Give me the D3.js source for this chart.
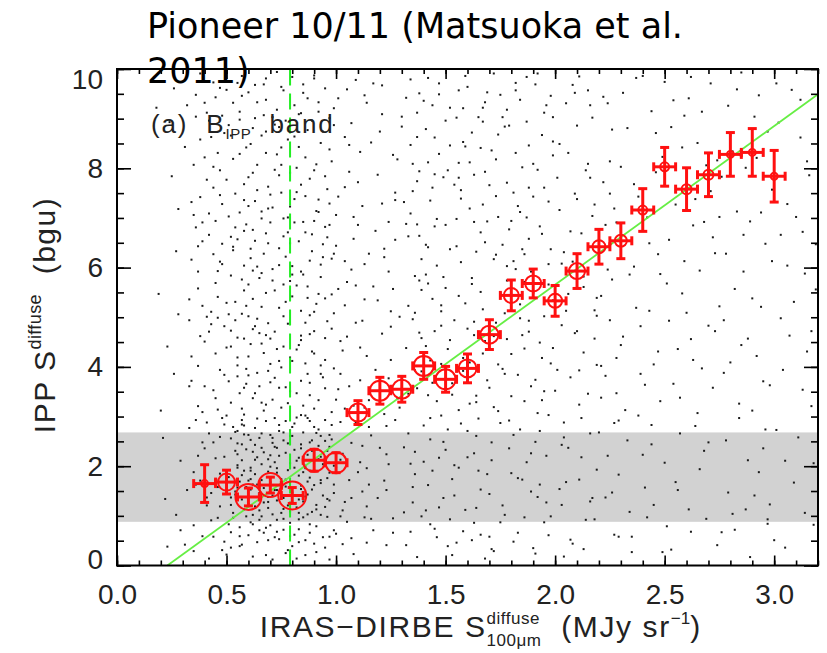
<!DOCTYPE html>
<html><head><meta charset="utf-8">
<script src="https://cdn.jsdelivr.net/npm/d3@7"></script>
<style>body{margin:0;background:#fff}svg{display:block}text{white-space:pre}</style>
</head><body><svg id="c" width="827" height="653"></svg>
<script>
// ---------------- DATA ----------------
const binX = [0.4,0.5,0.6,0.7,0.8,0.9,1.0,1.1,1.2,1.3,1.4,1.5,1.6,1.7,1.8,1.9,2.0,2.1,2.2,2.3,2.4,2.5,2.6,2.7,2.8,2.9,3.0];
const binY = [1.65,1.68,1.38,1.62,1.41,2.12,2.07,3.08,3.52,3.55,4.02,3.75,3.97,4.65,5.44,5.68,5.33,5.93,6.42,6.54,7.16,8.03,7.58,7.87,8.28,8.32,7.84];
const binYErr = [0.38,0.24,0.18,0.16,0.16,0.22,0.2,0.24,0.27,0.26,0.27,0.26,0.29,0.3,0.31,0.29,0.31,0.35,0.35,0.36,0.43,0.39,0.43,0.44,0.44,0.48,0.52];
const binXErr = [0.05,0.05,0.05,0.05,0.05,0.05,0.05,0.05,0.05,0.05,0.05,0.05,0.05,0.05,0.05,0.05,0.05,0.05,0.05,0.05,0.05,0.05,0.05,0.05,0.05,0.05,0.05];
const binCounts = [12,72,169,144,196,132,110,81,100,90,100,100,81,81,56,64,49,64,42,36,20,20,25,25,12,12,12];
const bandRange = [0.88, 2.68];
const cutX = [0.79];
const fitLineX = [0.23, 3.2];
const fitLineY = [0, 9.49];
const xTicks = [0,0.5,1.0,1.5,2.0,2.5,3.0];
const xTickLabels = ["0.0","0.5","1.0","1.5","2.0","2.5","3.0"];
const yTicks = [0,2,4,6,8,10];
const yTickLabels = ["0","2","4","6","8","10"];
const titleLines = ["Pioneer 10/11 (Matsuoka et al.", "2011)"];
const dots = [
[0.31,0.42],[0.58,1.13],[0.77,0.25],[0.93,2.61],[0.45,3.37],[1.05,0.88],[0.66,2.04],[0.84,3.72],[0.52,0.67],[1.14,1.96],
[0.39,2.48],[0.71,1.41],[0.98,3.09],[0.62,0.18],[0.88,1.77],[0.27,1.02],[1.09,2.87],[0.55,3.81],[0.79,0.59],[0.47,1.85],
[0.95,0.36],[0.68,3.24],[0.36,2.93],[1.17,0.71],[0.81,2.33],[0.59,1.58],[1.01,3.55],[0.43,0.91],[0.74,2.71],[0.91,1.22],
[0.33,3.61],[0.64,0.47],[0.86,3.02],[1.12,1.49],[0.49,2.19],[0.76,0.94],[0.57,2.84],[0.97,0.12],[0.41,1.37],[0.69,3.92],
[1.03,2.25],[0.83,0.73],[0.61,1.91],[0.35,0.29],[0.89,2.52],[1.15,3.33],[0.53,1.06],[0.72,2.39],[0.46,3.14],[0.99,1.63],
[0.78,0.31],[0.63,3.47],[0.29,2.11],[1.07,0.55],[0.85,1.88],[0.51,0.83],[0.94,3.79],[0.67,1.27],[0.42,2.66],[1.11,2.08],
[0.75,3.18],[0.56,0.39],[0.87,1.03],[0.38,1.71],[1.02,3.86],[0.65,2.57],[0.82,0.14],[0.48,2.97],[0.96,1.34],[0.73,1.96],
[0.59,3.66],[1.13,0.97],[0.44,0.58],[0.8,2.79],[0.92,2.14],[0.54,1.49],[0.7,0.81],[1.06,1.72],[0.37,3.21],[0.88,3.43],
[0.62,2.29],[0.77,1.59],[0.5,0.22],[1.0,0.64],[0.84,2.44],[0.58,3.04],[0.32,1.52],[0.95,2.93],[0.69,0.51],[1.16,2.62],
[0.47,1.19],[0.74,3.58],[0.9,0.44],[0.61,1.74],[0.4,2.36],[1.04,1.28],[0.79,2.06],[0.55,2.71],[0.86,1.39],[0.66,0.99],
[0.63,1.84],[0.71,2.47],[0.82,1.17],[0.57,2.12],[0.93,1.66],[0.76,0.72],[0.68,2.91],[0.87,2.23],[0.54,1.43],[0.99,2.01],
[0.73,1.31],[0.61,0.87],[0.85,2.68],[0.78,1.92],[0.52,2.56],[0.96,0.98],[0.67,1.56],[0.89,1.08],[0.59,2.34],[0.81,2.86],
[0.74,0.53],[0.64,2.18],[0.92,2.41],[0.56,1.69],[0.83,0.93],[0.7,2.63],[0.97,1.87],[0.6,1.24],[0.77,2.27],[0.88,0.66],
[0.53,0.96],[0.75,1.74],[0.9,2.79],[0.65,1.11],[0.8,1.47],[0.58,2.82],[0.94,1.41],[0.72,2.08],[0.62,1.63],[0.86,1.96],
[0.55,2.24],[0.79,0.86],[0.69,1.38],[0.98,2.54],[0.84,1.61],[0.51,1.78],[0.66,2.66],[0.91,0.79],[0.76,2.52],[0.6,0.61],
[0.82,2.11],[0.71,1.03],[0.95,1.18],[0.57,1.33],[0.87,2.97],[0.63,2.43],[0.78,1.21],[0.68,0.76],[0.93,2.19],[0.54,2.69],
[0.85,1.29],[0.73,2.37],[0.61,1.97],[0.97,0.58],[0.8,2.61],[0.66,1.72],[0.89,1.53],[0.56,0.77],[0.75,1.06],[0.92,2.74],
[0.64,2.96],[0.83,1.81],[0.7,1.68],[0.58,1.91],[0.96,2.31],[0.77,2.91],[0.62,1.02],[0.86,0.51],[0.74,2.21],[0.52,1.22],
[0.9,1.92],[0.67,2.28],[0.81,0.62],[0.99,1.46],[0.6,2.63],[0.72,1.52],[0.88,2.48],[0.55,1.57],[0.79,2.72],[0.65,0.92],
[0.94,2.04],[0.76,1.36],[0.63,2.77],[0.84,2.36],[0.69,1.89],[0.91,1.13],[0.57,2.44],[0.73,0.68],[0.87,1.69],[0.98,2.83],
[0.34,4.21],[0.62,5.37],[0.88,4.66],[0.47,6.12],[1.01,7.43],[0.73,8.28],[0.56,9.14],[0.93,5.81],[0.41,7.77],[0.79,6.49],
[1.12,4.93],[0.66,4.47],[0.52,8.66],[0.85,9.52],[0.37,5.58],[0.97,6.86],[0.71,7.21],[0.6,5.02],[1.07,8.91],[0.44,9.73],
[0.82,4.35],[0.58,6.74],[0.9,7.96],[0.31,8.43],[0.76,5.66],[1.15,6.28],[0.49,4.82],[0.68,9.38],[0.95,4.14],[0.54,7.49],
[0.87,8.77],[0.39,6.53],[1.04,5.24],[0.64,8.07],[0.8,6.03],[0.46,5.93],[0.99,9.21],[0.72,4.71],[0.57,9.86],[0.91,7.14],
[0.35,7.06],[0.78,8.58],[1.1,7.72],[0.61,6.38],[0.84,5.13],[0.5,5.29],[0.69,7.63],[0.94,6.21],[0.42,8.96],[1.02,4.52],
[0.75,9.64],[0.55,4.03],[0.89,6.67],[0.65,5.79],[0.32,9.27],[0.81,7.38],[0.98,8.14],[0.48,7.28],[0.7,6.91],[1.13,9.47],
[0.59,8.42],[0.86,4.89],[0.38,4.62],[0.77,5.31],[0.63,9.01],[0.92,5.47],[0.53,6.35],[1.08,6.58],[0.74,7.86],[0.43,5.11],
[0.83,9.09],[0.67,4.28],[0.96,7.58],[0.51,8.87],[0.36,6.81],[0.88,6.14],[0.6,7.82],[1.05,5.71],[0.79,4.19],[0.45,9.43],
[0.71,5.97],[0.93,8.51],[0.58,5.54],[0.84,7.67],[0.4,8.22],[1.0,6.44],[0.66,6.99],[0.52,4.41],[0.9,9.81],[0.76,6.63],
[0.62,4.76],[0.87,5.62],[0.47,7.96],[1.11,8.33],[0.73,9.18],[0.56,7.11],[0.95,4.58],[0.68,8.74],[0.82,8.01],[0.33,5.36],
[0.78,7.01],[0.64,6.02],[0.99,5.08],[0.5,9.58],[0.85,6.92],[0.7,4.57],[0.44,6.27],[0.92,9.33],[0.57,5.76],[1.06,7.93],
[0.8,5.86],[0.63,7.34],[0.38,9.91],[0.9,4.27],[0.74,8.83],[0.55,6.57],[0.97,7.29],[0.67,9.69],[0.83,4.44],[0.46,4.99],
[0.22,1.34],[0.26,3.86],[0.19,5.47],[0.28,7.18],[0.24,8.93],[0.21,2.57],[0.27,6.33],[0.23,4.41],[0.18,9.22],[0.29,0.71],
[0.25,7.84],[0.2,3.12],[0.28,5.06],[0.26,9.61],[0.23,0.38],
[1.23,0.41],[1.57,2.86],[1.81,6.13],[1.34,8.47],[1.96,1.27],[1.45,4.72],[1.68,9.33],[1.29,3.18],[1.88,7.61],[1.52,0.93],
[1.74,4.05],[1.38,6.64],[1.91,2.49],[1.61,8.12],[1.26,5.57],[1.83,0.66],[1.47,9.71],[1.71,2.12],[1.35,1.58],[1.99,5.34],
[1.55,6.98],[1.42,3.43],[1.79,8.86],[1.3,9.04],[1.64,1.16],[1.93,4.49],[1.49,7.82],[1.24,2.04],[1.86,3.31],[1.59,5.28],
[1.37,0.17],[1.76,6.46],[1.44,1.91],[1.67,7.27],[1.98,9.46],[1.32,4.38],[1.85,1.73],[1.53,3.67],[1.72,0.29],[1.41,8.79],
[1.63,4.91],[1.27,7.36],[1.89,5.92],[1.5,2.33],[1.78,9.18],[1.36,5.83],[1.95,0.87],[1.58,8.53],[1.22,6.21],[1.84,2.74],
[1.46,6.04],[1.7,3.58],[1.33,2.66],[1.92,7.97],[1.62,0.51],[1.4,9.36],[1.8,4.26],[1.54,1.41],[1.25,4.81],[1.97,3.03],
[1.66,6.71],[1.43,2.97],[1.87,9.84],[1.31,1.07],[1.75,5.49],[1.56,9.57],[1.28,8.18],[1.9,0.35],[1.48,5.12],[1.73,7.44],
[1.39,3.91],[1.82,8.31],[1.6,2.18],[1.21,9.67],[1.94,6.68],[1.51,4.36],[1.69,1.84],[1.34,7.09],[1.77,1.02],[1.45,0.74],
[1.65,9.03],[1.29,5.01],[1.88,4.93],[1.57,7.56],[1.42,5.68],[1.99,8.26],[1.24,3.77],[1.72,6.17],[1.53,0.21],[1.36,2.29],
[1.84,7.12],[1.61,3.26],[1.47,8.29],[1.93,1.63],[1.26,0.95],[1.79,2.92],[1.55,6.43],[1.38,9.51],[1.67,5.16],[1.91,3.74],
[1.32,6.88],[1.74,8.68],[1.49,1.36],[1.86,5.71],[1.63,7.87],[1.23,2.81],[1.97,7.33],[1.44,7.61],[1.7,0.58],[1.58,4.18],
[1.35,4.96],[1.81,0.48],[1.52,9.22],[1.27,6.56],[1.76,3.96],[1.64,2.61],[1.41,1.11],[1.95,9.12],[1.3,8.84],[1.85,6.37],
[1.5,5.59],[1.68,4.52],[1.22,1.71],[1.89,2.26],[1.56,3.13],[1.37,7.74],[1.78,7.71],[1.43,4.13],[1.66,8.41],[1.98,4.07],
[2.07,0.52],[2.41,3.64],[2.83,7.13],[2.16,9.27],[2.95,2.36],[2.58,5.48],[3.12,8.62],[2.29,1.83],[2.71,9.71],[2.04,6.31],
[2.49,0.27],[2.88,4.57],[2.21,4.02],[3.06,6.04],[2.64,2.81],[2.36,7.68],[2.97,0.84],[2.12,2.97],[2.79,1.47],[2.53,8.83],
[3.17,3.21],[2.26,5.76],[2.68,6.92],[2.02,8.49],[2.91,9.04],[2.45,1.22],[2.77,3.88],[2.18,0.93],[3.03,4.98],[2.61,9.41],
[2.33,2.52],[2.86,5.92],[2.09,4.68],[2.55,7.27],[3.14,1.06],[2.4,9.86],[2.74,0.41],[2.23,6.86],[2.99,7.57],[2.47,4.31],
[2.66,1.94],[2.14,7.96],[2.9,3.12],[2.37,5.19],[3.08,9.58],[2.57,3.38],[2.81,8.34],[2.05,1.68],[2.43,6.49],[2.73,4.72],
[3.19,5.56],[2.28,3.47],[2.62,0.68],[2.93,1.88],[2.19,5.03],[2.5,2.07],[2.85,9.93],[2.35,0.58],[3.01,2.73],[2.69,8.06],
[2.11,3.93],[2.46,8.71],[2.78,6.28],[2.25,8.14],[3.1,7.02],[2.59,6.13],[2.03,2.43],[2.89,0.17],[2.39,4.82],[2.7,2.48],
[3.15,4.31],[2.31,9.52],[2.52,4.93],[2.96,6.48],[2.17,1.36],[2.84,2.97],[2.44,2.83],[3.05,0.36],[2.63,4.14],[2.08,9.68],
[2.76,7.83],[2.34,1.08],[2.92,8.21],[2.2,6.58],[2.56,1.52],[3.13,6.72],[2.48,5.87],[2.8,4.09],[2.13,5.61],[2.67,9.14],
[2.98,3.63],[2.3,4.44],[2.6,7.71],[3.02,8.92],[2.42,0.97],[2.75,5.22],[2.24,2.21],[2.87,1.13],[2.54,9.37],[3.18,2.06],
[2.1,7.38],[2.65,3.07],[2.94,5.21],[2.38,3.02],[3.09,1.67],[2.72,6.61],[2.27,7.19],[2.51,0.79],[2.82,0.72],[2.15,3.46],
[0.43,4.86],[0.71,0.12],[1.22,3.05],[0.58,7.68],[0.92,3.33],[0.36,1.63],[1.18,6.74],[0.81,9.27],[0.64,3.88],[0.49,0.48],
[1.05,4.61],[0.77,6.22],[0.55,1.97],[0.97,8.38],[0.33,2.77],[1.26,0.66],[0.68,5.49],[0.86,2.01],[0.45,6.94],[1.13,5.36],
[0.6,9.53],[0.91,0.27],[0.74,4.12],[0.52,3.28],[1.09,9.78],[0.39,5.23],[0.83,1.33],[0.66,8.66],[1.2,2.37],[0.47,2.59],
[0.94,6.47],[0.72,2.97],[0.57,5.07],[1.03,1.11],[0.35,8.07],[0.79,3.51],[1.16,8.52],[0.62,0.83],[0.88,7.79],[0.5,4.39],
[0.99,3.97],[0.7,7.47],[0.42,0.14],[1.24,5.92],[0.85,0.97],[0.59,6.87],[0.76,2.68],[1.11,3.73],[0.37,4.02],[0.95,9.61],
[0.65,1.46],[0.82,5.64],[0.53,8.19],[1.07,2.47],[0.44,3.53],[0.9,5.11],[0.73,9.94],[0.61,2.53],[1.19,1.36],[0.34,6.16],
[0.87,3.86],[0.56,0.59],[1.0,7.06],[0.69,4.88],[0.48,9.06],[1.14,4.22],[0.8,0.39],[0.63,6.54],[0.96,1.76],[0.41,1.21],
[1.27,7.51],[0.75,8.07],[0.54,2.31],[0.89,8.96],[0.67,3.12],[1.04,6.13],[0.38,7.42],[0.84,4.63],[0.6,4.21],[1.21,9.09],
[0.46,1.58],[0.93,1.02],[0.71,5.74],[0.51,7.03],[1.08,0.23],[0.78,3.27],[0.64,9.33],[0.98,4.77],[0.35,0.81],[1.15,2.79],
[0.58,4.57],[0.86,6.71],[0.72,0.57],[0.43,8.63],[1.02,2.89],[0.66,7.13],[0.9,3.16],[0.52,5.84],[1.25,4.14],[0.77,1.73],
[0.62,3.37],[0.95,5.38],[0.4,4.51],[0.83,8.43],[0.69,2.14],[1.12,7.24],[0.55,9.72],[0.74,6.05],[0.47,3.94],[1.06,3.61],
[0.88,0.83],[0.57,1.82],[0.79,7.91],[1.23,1.52],[0.36,9.48],[0.65,4.68],[0.92,7.37],[0.5,1.44],[1.17,5.62],[0.76,4.41],
[0.61,8.49],[0.84,3.03],[0.45,5.69],[1.01,9.41],[0.7,3.69],[0.53,6.42],[0.97,2.39],[0.81,6.91],[1.28,3.36],[0.39,3.09],
[0.68,0.21],[0.89,4.31],[0.56,8.98],[1.1,1.88],[0.74,5.19],[0.42,6.66],[0.94,8.74],[0.63,1.19],[0.85,9.69],[0.49,2.84],
[1.14,0.46],[0.78,2.46],[0.59,3.96],[1.04,8.63],[0.37,2.21],[0.82,7.52],[0.67,6.28],[0.91,2.67],[0.54,4.94],[1.19,7.87],
[0.73,1.87],[0.44,7.61],[0.99,0.71],[0.62,5.94],[0.87,5.39],[0.51,3.71],[1.07,5.96],[0.8,9.84],[0.66,2.37],[0.41,9.12],
[0.95,3.57],[0.72,8.88],[0.57,2.93],[1.22,6.38],[0.84,1.54],[0.48,6.07],[0.69,1.16],[1.03,4.33],[0.6,7.24],[0.88,2.91],
[0.34,3.72],[0.76,5.02],[0.93,6.06],[0.52,0.36],[1.13,3.18],[0.64,4.97],[0.79,1.09],[0.46,8.31],[1.0,1.98],[0.71,9.03],
[0.58,3.58],[0.86,4.07],[0.68,6.69],[0.83,2.17],[0.61,1.53],[0.75,3.99],[0.9,1.62],[0.55,2.46],[0.7,2.22],[0.97,2.63],
[1.31,2.38],[1.62,5.79],[1.94,8.67],[1.47,1.17],[2.13,4.29],[1.75,9.48],[1.39,6.17],[2.04,2.88],[1.58,3.92],[1.86,0.97],
[1.34,9.79],[1.69,6.93],[2.17,7.04],[1.52,4.54],[1.81,2.63],[1.43,7.35],[2.08,0.44],[1.66,1.53],[1.97,5.66],[1.37,3.57],
[1.73,8.18],[2.19,1.93],[1.55,9.02],[1.88,4.71],[1.46,0.57],[2.01,7.81],[1.64,3.42],[1.33,5.23],[1.79,6.77],[2.15,9.57],
[1.5,6.86],[1.92,1.38],[1.41,4.42],[1.71,2.48],[2.06,5.47],[1.59,8.44],[1.36,1.84],[1.84,9.38],[2.11,3.24],[1.48,3.02],
[1.77,5.08],[1.63,0.86],[1.98,6.37],[1.35,8.09],[1.7,7.66],[2.16,2.66],[1.54,2.02],[1.9,7.43],[1.44,9.27],[2.03,4.84],
[1.67,4.27],[1.32,0.41],[1.83,3.84],[2.2,6.22],[1.57,6.11],[1.95,3.51],[1.4,2.82],[1.76,1.21],[2.1,8.86],[1.61,7.19],
[1.87,2.08],[1.49,5.81],[2.14,0.92],[1.72,9.91],[1.38,4.69],[1.99,9.03],[1.65,2.96],[1.82,5.97],[1.45,8.62],[2.07,3.79],
[1.53,1.74],[1.93,6.83],[1.42,6.41],[1.78,4.56],[2.18,5.14],[1.6,9.64],[1.35,7.54],[1.85,8.02],[2.02,1.54],[1.69,3.73],
[1.51,7.96],[1.96,2.21],[1.39,0.99],[1.74,7.02],[2.12,6.69],[1.56,5.43],[1.89,1.49],[1.46,3.31],[2.05,9.31],[1.68,6.51],
[1.33,6.63],[1.8,3.41],[2.19,4.04],[1.58,0.69],[1.91,9.69],[1.43,2.54],[1.73,4.89],[2.09,7.49],[1.62,8.72],[1.37,9.12],
[1.84,4.98],[1.5,3.74],[1.97,0.61],[1.66,5.51],[1.41,5.86],[2.15,8.09],[1.77,8.84],[1.54,4.94],[1.88,6.58],[2.03,6.08],
[1.36,3.93],[1.71,0.33],[1.94,4.18],[1.47,9.49],[2.16,1.29],[1.6,2.71],[1.83,7.24],[1.44,5.37],[2.0,3.52],[1.75,2.87],
[1.52,8.46],[1.9,5.49],[1.38,7.94],[2.11,9.85],[1.64,6.32],[1.8,1.86],[1.48,4.06],[1.95,7.61],[1.68,0.14],[2.06,2.37],
[1.34,2.05],[1.78,6.03],[1.56,7.81],[1.92,3.07],[1.42,8.12],[2.13,5.82],[1.67,9.22],[1.86,4.37],[1.51,0.39],[1.99,8.54],
[1.39,5.55],[1.72,3.19],[2.18,7.27],[1.59,1.12],[1.87,8.94],[1.45,6.83],[2.04,0.18],[1.63,4.64],[1.82,9.57],[1.49,2.49],
[2.23,3.82],[2.58,8.42],[2.91,1.41],[2.36,6.02],[3.07,4.63],[2.69,0.94],[2.44,9.15],[2.82,5.57],[3.16,7.86],[2.27,0.62],
[2.62,4.56],[2.97,8.74],[2.4,2.23],[2.75,7.02],[3.11,2.58],[2.33,8.81],[2.66,5.94],[3.0,0.51],[2.48,3.31],[2.86,6.66],
[2.21,5.43],[2.55,1.68],[2.93,9.47],[2.38,7.43],[3.14,5.88],[2.72,3.58],[2.5,9.74],[2.88,2.12],[2.26,1.47],[2.63,6.85],
[3.04,3.94],[2.43,5.13],[2.79,9.26],[3.18,0.82],[2.31,4.61],[2.68,2.31],[2.99,6.13],[2.53,0.32],[2.85,4.44],[2.22,7.72],
[2.6,5.09],[2.95,3.71],[2.37,9.82],[2.74,8.16],[3.12,9.38],[2.46,7.92],[2.81,1.04],[3.06,7.28],[2.29,2.92],[2.65,8.51],
[2.9,5.38],[2.41,1.57],[2.77,4.94],[3.17,4.72],[2.34,5.86],[2.57,2.66],[2.98,1.23],[2.71,7.54],[2.24,9.31],[2.47,6.27],
[2.87,8.01],[3.03,6.66],[2.61,1.13],[2.39,3.86],[2.78,2.52],[3.15,8.14],[2.52,6.56],[2.92,4.22],[2.28,6.91],[2.67,3.97],
[3.01,9.71],[2.45,4.05],[2.83,9.59],[2.2,2.68],[2.59,9.06],[2.96,2.74],[2.35,0.27],[2.73,6.29],[3.09,5.31],[2.49,8.23],
[2.84,3.26],[2.3,8.03],[2.64,7.38],[3.13,3.54],[2.42,7.01],[2.76,0.67],[2.56,4.36],[2.94,7.11],[2.32,3.13],[2.7,4.83],
[3.05,2.11],[2.51,5.68],[2.89,6.93],[2.25,4.94],[2.8,8.66],[3.19,6.47],[2.44,2.44],[2.62,9.84],[2.97,0.93],[2.54,3.66],
[0.48,0.31],[0.73,4.36],[1.08,3.22],[0.39,6.91],[0.91,5.27],[0.62,8.81],[1.21,4.67],[0.55,2.02],[0.84,9.11],[0.33,4.94],
[0.98,6.18],[0.67,0.66],[0.79,7.23],[1.15,1.63],[0.44,8.03],[0.88,3.68],[0.58,6.04],[1.03,0.43],[0.71,3.34],[0.36,9.04],
[0.95,7.84],[0.52,4.73],[1.26,8.27],[0.81,1.97],[0.64,7.56],[0.41,2.88],[1.1,6.86],[0.76,9.57],[0.57,3.16],[0.93,4.03],
[0.69,1.28],[1.18,3.94],[0.46,5.41],[0.86,8.22],[0.61,4.46],[1.0,3.34],[0.74,6.39],[0.35,1.88],[0.89,6.33],[0.53,9.32],
[1.13,6.07],[0.66,5.21],[0.83,0.47],[0.49,3.84],[1.06,8.47],[0.78,4.87],[0.59,0.99],[0.96,4.92],[0.42,7.09],[1.23,2.24],
[0.72,7.97],[0.87,1.43],[0.54,6.81],[1.01,5.57],[0.63,2.13],[0.38,8.58],[0.92,9.14],[0.77,3.59],[1.16,0.94],[0.5,3.02],
[0.85,5.86],[0.68,9.81],[0.45,4.27],[1.09,4.89],[0.6,5.66],[0.82,3.47],[0.97,1.31],[0.37,5.92],[0.74,2.83],[1.2,8.74],
[0.56,8.29],[0.9,6.94],[0.65,3.61],[1.04,7.62],[0.43,1.46],[0.8,5.42],[0.58,7.36],[1.12,2.41],[0.7,4.06],[0.94,0.57],
[0.51,5.06],[0.86,7.44],[0.62,6.76],[1.25,5.12],[0.4,3.61],[0.76,1.14],[0.99,8.87],[0.55,4.19],[0.83,6.53],[0.68,8.31],
[1.07,1.36],[0.47,9.62],[0.89,2.31],[0.63,4.82],[1.14,9.32],[0.73,0.92],[0.53,2.79],[0.96,6.61],[0.79,5.73],[0.34,7.32],
[0.6,1.71],[0.91,8.08],[0.69,7.19],[1.02,0.99],[0.48,6.48],[0.84,4.54],[0.57,9.46],[1.19,5.34],[0.75,7.51],[0.42,4.71],
[0.88,1.91],[0.66,3.28],[1.05,9.59],[0.52,1.37],[0.81,8.64],[0.61,6.19],[0.95,2.51],[0.39,0.59],[0.72,5.54],[1.11,4.39],
[0.56,3.47],[0.86,0.21],[0.67,9.07],[0.93,3.86],[0.45,2.16],[1.24,6.92],[0.78,6.71],[0.59,5.23],[0.99,6.28],[0.71,2.57],
[0.5,7.77],[0.82,2.98],[1.17,9.71],[0.64,1.63],[0.9,4.72],[0.37,6.43],[0.75,8.42],[0.54,5.31],[1.02,2.13],[0.68,4.64],
[0.87,9.41],[0.44,2.48],[0.8,4.12],[1.09,5.64],[0.62,7.91],[0.93,1.72],[0.57,0.42],[0.76,6.99],[1.14,1.19],[0.49,8.71],
[0.85,3.22],[0.66,5.89],[0.97,9.01],[0.41,5.01],[0.73,1.52],[1.21,7.29],[0.6,3.83],[0.88,5.04],[0.52,6.62],[0.79,2.61],
[1.04,3.16],[0.69,6.49],[0.46,0.96],[0.92,7.12],[0.63,9.68],[0.83,1.06],[1.27,2.93],[0.55,4.59],[0.77,8.96],[0.98,5.46],
[0.4,9.32],[0.72,3.78],[0.58,2.64],[0.9,9.87],[0.65,0.71],[1.08,7.02],[0.47,7.46],[0.84,5.92],[0.7,1.99],[0.95,6.82],
[1.33,3.46],[1.71,8.36],[2.12,2.18],[1.52,6.37],[1.89,3.61],[2.26,8.78],[1.43,0.83],[1.81,7.51],[2.05,5.13],[1.61,4.09],
[1.37,8.63],[1.96,9.27],[2.21,3.38],[1.56,1.97],[1.78,5.74],[1.41,6.46],[2.15,6.37],[1.67,8.94],[1.93,2.71],[1.48,4.83],
[2.29,0.58],[1.74,3.11],[1.35,1.27],[2.02,7.16],[1.59,9.86],[1.86,6.27],[1.45,7.88],[2.18,4.57],[1.7,1.44],[1.98,0.99],
[1.39,4.58],[1.63,6.92],[2.09,9.52],[1.53,3.44],[1.83,1.76],[2.24,5.96],[1.47,2.17],[1.76,9.03],[1.95,5.02],[1.31,7.32],
[1.66,0.62],[2.11,1.73],[1.57,7.39],[1.88,8.46],[2.27,2.87],[1.42,9.82],[1.72,4.62],[2.01,3.94],[1.62,5.67],[1.36,5.09],
[1.91,0.24],[2.16,7.81],[1.5,8.96],[1.79,2.36],[2.07,6.73],[1.44,3.68],[1.68,7.93],[1.97,6.07],[2.22,9.44],[1.55,0.46],
[1.85,4.64],[1.32,9.42],[2.03,1.22],[1.64,3.29],[1.9,8.09],[1.4,2.09],[2.19,5.39],[1.73,6.26],[1.58,9.21],[2.1,4.72],
[1.46,6.98],[1.82,9.72],[2.25,7.49],[1.65,1.91],[1.94,3.33],[1.38,5.74],[2.06,8.31],[1.75,0.87],[1.51,2.74],[1.87,7.01],
[2.13,0.33],[1.6,4.77],[1.34,0.68],[1.99,4.38],[1.69,9.53],[2.28,4.18],[1.48,5.24],[1.8,6.94],[2.04,2.58],[1.54,7.67],
[1.92,9.91],[1.42,1.62],[1.77,3.86],[2.17,9.02],[1.63,2.26],[1.37,6.87],[1.84,5.26],[2.08,6.12],[1.56,8.11],[2.23,1.37]
];

// ---------------- LAYOUT ----------------
const L = 117, R = 818, T = 69, B = 565.5;
const svg = d3.select("#c");
const x = d3.scaleLinear().domain([0, 3.2]).range([L, R]);
const y = d3.scaleLinear().domain([0, 10]).range([B, T]);
const rScale = d3.scaleSqrt().domain([0, 196]).range([0, 14]);
const FONT = "'Liberation Sans', Arial, sans-serif";
const RED = "#ff1010";

// band
svg.append("rect")
  .attr("x", x(0)).attr("width", x(3.2) - x(0))
  .attr("y", y(bandRange[1])).attr("height", y(bandRange[0]) - y(bandRange[1]))
  .attr("fill", "#d2d2d2");

// background dots
svg.append("g").selectAll("rect").data(dots).join("rect")
  .attr("x", d => x(d[0]) - 1).attr("y", d => y(d[1]) - 1)
  .attr("width", 2).attr("height", 2).attr("fill", "#1a1a1a");

// vertical dashed line
svg.append("g").selectAll("line").data(cutX).join("line")
  .attr("x1", d => x(d)).attr("x2", d => x(d))
  .attr("y1", y(0)).attr("y2", y(10))
  .attr("stroke", "#22ee22").attr("stroke-width", 2)
  .attr("stroke-dasharray", "16,8");

// fit line
svg.append("path")
  .datum(fitLineX.map((v, i) => [v, fitLineY[i]]))
  .attr("d", d3.line().x(d => x(d[0])).y(d => y(d[1])))
  .attr("stroke", "#66ee44").attr("stroke-width", 1.8).attr("fill", "none");

// red binned points
const pts = binX.map((v, i) => ({x: v, y: binY[i], ey: binYErr[i], ex: binXErr[i], n: binCounts[i]}));
const pg = svg.append("g").attr("stroke", RED).attr("fill", "none");
const cap = 4.5;
pts.forEach(p => {
  const g = pg.append("g");
  const cx = x(p.x), cy = y(p.y);
  const y1 = y(p.y - p.ey), y2 = y(p.y + p.ey);
  const x1 = x(p.x - p.ex), x2 = x(p.x + p.ex);
  g.append("line").attr("x1", cx).attr("x2", cx).attr("y1", y1).attr("y2", y2).attr("stroke-width", 3);
  g.append("line").attr("x1", cx - cap).attr("x2", cx + cap).attr("y1", y1).attr("y2", y1).attr("stroke-width", 3);
  g.append("line").attr("x1", cx - cap).attr("x2", cx + cap).attr("y1", y2).attr("y2", y2).attr("stroke-width", 3);
  g.append("line").attr("x1", x1).attr("x2", x2).attr("y1", cy).attr("y2", cy).attr("stroke-width", 3);
  g.append("line").attr("x1", x1).attr("x2", x1).attr("y1", cy - cap).attr("y2", cy + cap).attr("stroke-width", 3);
  g.append("line").attr("x1", x2).attr("x2", x2).attr("y1", cy - cap).attr("y2", cy + cap).attr("stroke-width", 3);
  g.append("circle").attr("cx", cx).attr("cy", cy).attr("r", rScale(p.n)).attr("stroke-width", 2);
});

// axes
const xMinor = d3.range(0, 3.201, 0.1);
const yMinor = d3.range(0, 10.01, 0.5);
function styleAxis(g) {
  g.select(".domain").remove();
  g.selectAll(".tick line").attr("stroke", "#000").attr("stroke-width", 1.6);
  g.selectAll("text").attr("font-family", FONT).attr("font-size", 28).attr("fill", "#222");
}
// bottom
svg.append("g").attr("transform", `translate(0,${B})`)
  .call(d3.axisBottom(x).tickValues(xMinor).tickSize(-5).tickFormat("")).call(styleAxis);
svg.append("g").attr("transform", `translate(0,${B})`)
  .call(d3.axisBottom(x).tickValues(xTicks).tickSize(-10).tickPadding(19)
    .tickFormat((d, i) => xTickLabels[i])).call(styleAxis);
// top
svg.append("g").attr("transform", `translate(0,${T})`)
  .call(d3.axisTop(x).tickValues(xMinor).tickSize(-5).tickFormat("")).call(styleAxis);
svg.append("g").attr("transform", `translate(0,${T})`)
  .call(d3.axisTop(x).tickValues(xTicks).tickSize(-10).tickFormat("")).call(styleAxis);
// left
svg.append("g").attr("transform", `translate(${L},0)`)
  .call(d3.axisLeft(y).tickValues(yMinor).tickSize(-7).tickFormat("")).call(styleAxis);
const yAx = svg.append("g").attr("transform", `translate(${L},0)`)
  .call(d3.axisLeft(y).tickValues(yTicks).tickSize(-14).tickPadding(14)
    .tickFormat((d, i) => yTickLabels[i])).call(styleAxis);
yAx.selectAll("text").filter(d => d === 10).attr("dy", "0.68em");
yAx.selectAll("text").filter(d => d === 0).attr("dy", "0.1em");
// right
svg.append("g").attr("transform", `translate(${R},0)`)
  .call(d3.axisRight(y).tickValues(yMinor).tickSize(-7).tickFormat("")).call(styleAxis);
svg.append("g").attr("transform", `translate(${R},0)`)
  .call(d3.axisRight(y).tickValues(yTicks).tickSize(-14).tickFormat("")).call(styleAxis);

// frame
svg.append("rect").attr("x", L).attr("y", T).attr("width", R - L).attr("height", B - T)
  .attr("fill", "none").attr("stroke", "#000").attr("stroke-width", 2);

// rich text helper: parts [{t, s, dy, stack, ls}] laid out left-to-right
function rich(g, parts, fill) {
  let cx = 0, stackStart = null, stackW = 0;
  parts.forEach(p => {
    const startX = p.stack === "second" ? stackStart : cx;
    const t = g.append("text").attr("x", startX).attr("y", p.dy || 0)
      .attr("font-family", FONT).attr("font-size", p.s).attr("fill", fill)
      .attr("letter-spacing", p.ls || 0)
      .style("white-space", "pre")
      .text(p.t);
    const w = t.node().getComputedTextLength();
    if (p.stack === "first") { stackStart = cx; stackW = w; cx += w; }
    else if (p.stack === "second") { cx = stackStart + Math.max(stackW, w); }
    else cx = startX + w;
  });
  return cx;
}

// x axis label
const xl = svg.append("g");
const xw = rich(xl, [
  {t: "IRAS\u2212DIRBE S", s: 30, ls: 1.6},
  {t: "diffuse", s: 17, dy: -13, stack: "first", ls: 0.5},
  {t: "100\u03bcm", s: 17, dy: 9, stack: "second", ls: 0.5},
  {t: "  (MJy sr", s: 30, ls: 1.6},
  {t: "\u22121", s: 17, dy: -13},
  {t: ")", s: 30}
], "#222");
xl.attr("transform", `translate(${480 - xw / 2},637)`);

// y axis label
const yl = svg.append("g");
const yw = rich(yl, [
  {t: "IPP S", s: 30, ls: 1.5},
  {t: "diffuse", s: 18, dy: -14, ls: 0.4},
  {t: "  (bgu)", s: 30, ls: 1.5}
], "#222");
yl.attr("transform", `translate(55,${315 + yw / 2}) rotate(-90)`);

// panel annotation
const an = svg.append("g");
rich(an, [
  {t: "(a)  B", s: 26, ls: 1.8},
  {t: "IPP", s: 15, dy: 6, ls: 0.6},
  {t: "  band", s: 26, ls: 1.8}
], "#222");
an.attr("transform", "translate(151,133)");

// title
svg.append("g").selectAll("text").data(titleLines).join("text")
  .attr("x", 147).attr("y", (d, i) => 38 + i * 45)
  .attr("font-family", "'DejaVu Sans', Verdana, sans-serif")
  .attr("font-size", 35).attr("fill", "#000")
  .text(d => d);
</script></body></html>
